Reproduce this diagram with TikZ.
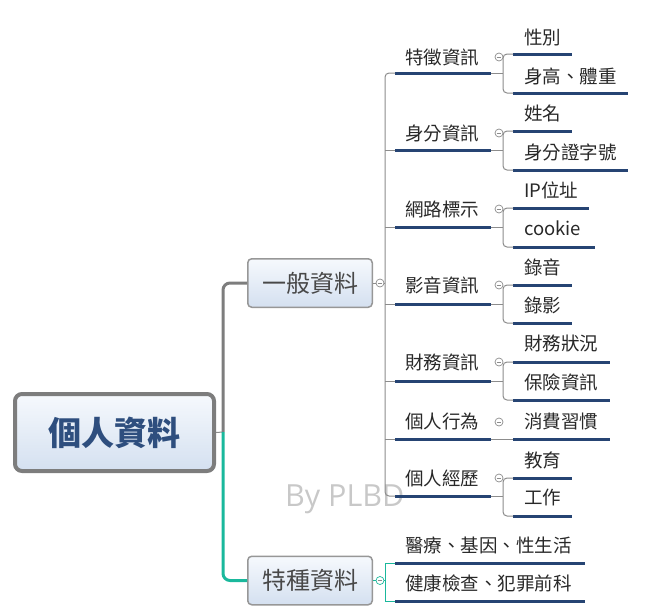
\documentclass[tikz,border=0pt]{standalone}
\usepackage{fontspec}
\setmainfont{Noto Sans CJK TC}
\newfontfamily\wmfont{Open Sans}
\definecolor{ulblue}{RGB}{38,68,115}
\definecolor{lgray}{RGB}{140,140,140}
\definecolor{dgray}{RGB}{125,125,125}
\definecolor{tealc}{RGB}{26,184,156}
\definecolor{boxtop}{RGB}{246,249,253}
\definecolor{boxbot}{RGB}{212,224,240}
\definecolor{rootblue}{RGB}{46,78,126}
\definecolor{txtc}{RGB}{40,40,40}
\definecolor{wmc}{RGB}{200,200,200}
\newcommand\lvtwo[4]{%
  \node[ltwo] (#1) at (442,#2) {#4};
  \coordinate (#1-a) at (395,#3); \coordinate (#1-b) at (491,#3);
  \draw[ul] (#1-a) -- (#1-b);}
\newcommand\lvthree[6]{%
  \node[lthree] (#1) at (#6,#2) {#5};
  \coordinate (#1-a) at (513,#3); \coordinate (#1-b) at (#4,#3);
  \draw[ul] (#1-a) -- (#1-b);}
\newcommand\brk[4]{%
  \draw[conn] (#1-b) -- ([xshift=12pt]#1-b);
  \draw[conn, rounded corners=4pt] (#2-a) -| ([xshift=-10pt]#3-a) -- (#3-a);
  \node[collapse] (#1-m) at (499,#4) {};}
\begin{document}
\begin{tikzpicture}[x=1pt,y=-1pt,
  ul/.style={draw=ulblue, line width=3pt},
  conn/.style={draw=lgray, line width=1pt},
  ltwo/.style={inner sep=0pt, text=txtc, font=\fontsize{18.5}{20}\selectfont},
  lthree/.style={inner sep=0pt, anchor=west, text=txtc, font=\fontsize{18.5}{20}\selectfont},
  lone/.style={draw=lgray!90, line width=1.5pt, rounded corners=4pt, top color=boxtop, bottom color=boxbot,
     minimum width=124.5pt, minimum height=48.5pt, inner sep=0pt, text=txtc!85, font=\fontsize{24}{28}\selectfont},
  rootbox/.style={draw=dgray, line width=4pt, rounded corners=7pt, top color=boxtop, bottom color=boxbot,
     minimum width=199pt, minimum height=77pt, inner sep=0pt, text=rootblue, font=\fontsize{33}{38}\selectfont\bfseries},
  collapse/.style={circle, draw=lgray, line width=0.7pt, fill=white, minimum size=8pt, inner sep=0pt,
     path picture={\draw[lgray, line width=0.7pt] ([xshift=-2.3pt]path picture bounding box.center) -- ([xshift=2.3pt]path picture bounding box.center);}},
  wm/.style={anchor=base west, inner sep=0pt, text=wmc, font=\wmfont\fontsize{30.5}{32}\selectfont}
]
\useasboundingbox (0,0) rectangle (648,611);
\node[wm] (wmk) at (285,506) {By PLBD};

\node[rootbox] (root) at (114.5,432.5) {個人資料};
\node[lone] (g1) at (310,283) {一般資料};
\node[lone] (g2) at (310,580.5) {特種資料};
\coordinate (j) at (223,432);
\draw[conn] (root.east) -- (j);
\draw[draw=dgray, line width=3pt, rounded corners=7pt] (j) |- (g1.west);
\draw[draw=tealc, line width=3pt, rounded corners=7pt] (j) |- (g2.west);

% level 2 under 一般資料
\lvtwo{tz}{57}{73}{特徵資訊}
\lvtwo{sf}{133}{150}{身分資訊}
\lvtwo{wl}{209}{227}{網路標示}
\lvtwo{yy}{285}{304}{影音資訊}
\lvtwo{cw}{362}{381}{財務資訊}
\lvtwo{xw}{421}{439}{個人行為}
\lvtwo{jl}{478}{496}{個人經歷}
\coordinate (sp) at (385,283);
\draw[conn] (g1.east) -- (sp);
\draw[conn, rounded corners=4pt] (tz-a) -| ([xshift=-10pt]jl-a) -- (jl-a);
\foreach \n in {sf,wl,yy,cw,xw} \draw[conn] ([xshift=-10pt]\n-a) -- (\n-a);
\node[collapse] (g1-m) at (380,283) {};

% level 3
\lvthree{xb}{37}{54}{572}{性別}{524}
\lvthree{sg}{76}{93}{628}{身高、體重}{524}
\lvthree{xm}{113}{131}{572}{姓名}{524}
\lvthree{sz}{152}{170}{628}{身分證字號}{524}
\lvthree{ip}{190}{208}{589}{IP位址}{524}
\lvthree{ck}{228}{247}{595}{cookie}{524}
\lvthree{ly}{267}{285}{572}{錄音}{524}
\lvthree{lg}{305}{323}{572}{錄影}{524}
\lvthree{zk}{343}{362}{610}{財務狀況}{524}
\lvthree{bx}{382}{400}{610}{保險資訊}{524}
\lvthree{xf}{421}{439}{610}{消費習慣}{524}
\lvthree{jy}{460}{478}{572}{教育}{524}
\lvthree{gz}{497}{516}{572}{工作}{524}
\brk{tz}{xb}{sg}{57}
\brk{sf}{xm}{sz}{133}
\brk{wl}{ip}{ck}{209}
\brk{yy}{ly}{lg}{285}
\brk{cw}{zk}{bx}{362}
\brk{jl}{jy}{gz}{478}
\draw[conn] (xw-b) -- (xf-a);
\node[collapse] (xw-m) at (499,422) {};

% 特種資料 children
\node[lthree] (yl) at (405,545) {醫療、基因、性生活};
\node[lthree] (jk) at (405,583) {健康檢查、犯罪前科};
\coordinate (yl-a) at (395,563); \coordinate (yl-b) at (585,563);
\coordinate (jk-a) at (395,601); \coordinate (jk-b) at (585,601);
\draw[draw=tealc, line width=1pt] (g2.east) -- (385,580.5);
\draw[draw=tealc, line width=1pt] (yl-a) -| ([xshift=-10pt]jk-a) -- (jk-a);
\draw[ul] (yl-a) -- (yl-b);
\draw[ul] (jk-a) -- (jk-b);
\node[collapse, draw=tealc] (g2-m) at (380,580.5) {};
\end{tikzpicture}
\end{document}
